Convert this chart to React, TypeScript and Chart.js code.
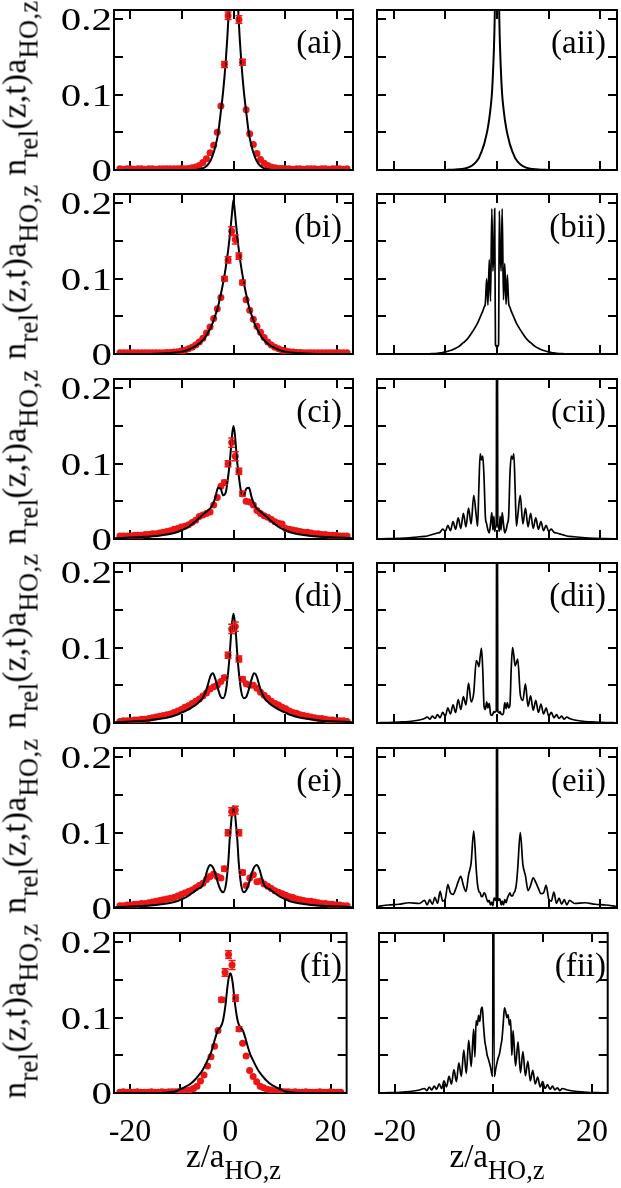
import React, { useEffect, useRef } from 'react';
import { Chart, registerables } from 'chart.js';
Chart.register(...registerables);

// ---------------- axes ----------------
const X_MIN = -23.2;
const X_MAX = 23.2;
const Y_MIN = 0;
const Y_MAX = 0.2125;
const X_TICKS = [-20, -10, 0, 10, 20];
const X_TICK_LABELS = ['-20', '', '0', '', '20'];
const Y_TICKS = [0, 0.05, 0.1, 0.15, 0.2];
const Y_TICK_LABELS = ['0', '', '0.1', '', '0.2'];
const ROWS = ['a', 'b', 'c', 'd', 'e', 'f'];

// ---------------- grids ----------------
const Z_PTS = [-22.05,-21.35,-20.65,-19.95,-19.25,-18.55,-17.85,-17.15,-16.45,-15.75,-15.05,-14.35,-13.65,-12.95,-12.25,-11.55,-10.85,-10.15,-9.45,-8.75,-8.05,-7.35,-6.65,-5.95,-5.25,-4.55,-3.85,-3.15,-2.45,-1.75,-1.05,-0.35,0.35,1.05,1.75,2.45,3.15,3.85,4.55,5.25,5.95,6.65,7.35,8.05,8.75,9.45,10.15,10.85,11.55,12.25,12.95,13.65,14.35,15.05,15.75,16.45,17.15,17.85,18.55,19.25,19.95,20.65,21.35,22.05];
const Z_L = [-23,-20,-17,-15,-13,-11,-10,-9,-8,-7,-6,-5.5,-5,-4.5,-4,-3.5,-3,-2.5,-2,-1.5,-1,-0.75,-0.5,-0.25,0,0.25,0.5,0.75,1,1.5,2,2.5,3,3.5,4,4.5,5,5.5,6,7,8,9,10,11,13,15,17,20,23];
const Z_R = [-23,-21,-19,-17,-15,-14,-13.5,-13,-12.5,-12,-11.5,-11,-10.5,-10,-9.5,-9,-8.5,-8,-7.5,-7,-6.5,-6,-5.5,-5,-4.5,-4,-3.75,-3.5,-3.25,-3,-2.75,-2.5,-2.25,-2,-1.75,-1.5,-1.25,-1,-0.8,-0.6,-0.45,-0.3,-0.15,0,0.15,0.3,0.45,0.6,0.8,1,1.25,1.5,1.75,2,2.25,2.5,2.75,3,3.25,3.5,3.75,4,4.5,5,5.5,6,6.5,7,7.5,8,8.5,9,9.5,10,10.5,11,11.5,12,12.5,13,13.5,14,15,17,19,21,23];
const ERR_Z = [-1.75, -1.05, -0.35, 0.35, 1.05, 1.75];

// ---------------- left column: red data points ----------------
const PTS_A = [0.0015,0.001,0.0015,0.0015,0.001,0.0015,0.0015,0.001,0.0015,0.0015,0.001,0.0015,0.0015,0.0015,0.0015,0.0015,0.0015,0.002,0.0015,0.002,0.003,0.004,0.006,0.01,0.015,0.023,0.033,0.05,0.085,0.14,0.205,0.3,
  0.3,0.2,0.143,0.08,0.048,0.034,0.022,0.014,0.009,0.006,0.004,0.003,0.002,0.002,0.0015,0.0015,0.001,0.0015,0.0015,0.001,0.0015,0.0015,0.0015,0.001,0.0015,0.0015,0.001,0.0015,0.0015,0.0015,0.001,0.0015];
const PTS_B = [0.0015,0.0015,0.0015,0.0015,0.0015,0.0015,0.0015,0.0015,0.0015,0.0015,0.0015,0.0015,0.0015,0.002,0.002,0.0025,0.003,0.004,0.005,0.007,0.009,0.012,0.016,0.021,0.028,0.036,0.047,0.06,0.075,0.1,0.125,0.163,
  0.152,0.13,0.095,0.072,0.058,0.046,0.037,0.029,0.022,0.016,0.012,0.009,0.007,0.005,0.004,0.003,0.0025,0.002,0.002,0.0015,0.0015,0.0015,0.0015,0.0015,0.0015,0.0015,0.0015,0.0015,0.0015,0.0015,0.0015,0.0015];
const PTS_C = [0.004,0.004,0.004,0.004,0.005,0.005,0.005,0.006,0.006,0.007,0.007,0.008,0.009,0.01,0.011,0.013,0.014,0.016,0.017,0.019,0.022,0.025,0.03,0.032,0.034,0.036,0.045,0.055,0.07,0.075,0.1,0.128,
  0.11,0.09,0.06,0.05,0.049,0.045,0.038,0.034,0.031,0.029,0.026,0.023,0.021,0.02,0.014,0.013,0.012,0.011,0.01,0.009,0.009,0.008,0.007,0.007,0.006,0.006,0.005,0.005,0.005,0.004,0.004,0.004];
const PTS_D = [0.002,0.003,0.003,0.003,0.004,0.004,0.005,0.005,0.006,0.007,0.008,0.009,0.01,0.011,0.012,0.014,0.016,0.018,0.021,0.023,0.026,0.029,0.032,0.036,0.04,0.045,0.048,0.05,0.055,0.06,0.09,0.125,
  0.128,0.085,0.058,0.052,0.05,0.05,0.046,0.041,0.037,0.033,0.029,0.026,0.024,0.021,0.019,0.016,0.014,0.013,0.011,0.01,0.009,0.008,0.007,0.006,0.006,0.005,0.004,0.004,0.003,0.003,0.003,0.002];
const PTS_E = [0.003,0.003,0.004,0.004,0.005,0.005,0.006,0.006,0.007,0.008,0.009,0.01,0.011,0.012,0.013,0.014,0.016,0.018,0.02,0.022,0.024,0.027,0.03,0.033,0.038,0.042,0.045,0.042,0.04,0.052,0.1,0.128,
  0.13,0.1,0.047,0.03,0.04,0.044,0.035,0.036,0.032,0.029,0.026,0.023,0.021,0.019,0.017,0.015,0.014,0.012,0.011,0.01,0.009,0.009,0.008,0.007,0.006,0.006,0.005,0.005,0.004,0.004,0.003,0.003];
const PTS_F = [0.001,0.0015,0.001,0.001,0.001,0.0015,0.001,0.001,0.001,0.0015,0.001,0.001,0.0015,0.001,0.0015,0.0015,0.0015,0.002,0.002,0.003,0.004,0.006,0.009,0.016,0.024,0.036,0.048,0.062,0.083,0.124,0.16,0.184,
  0.17,0.126,0.085,0.066,0.049,0.03,0.022,0.015,0.009,0.007,0.005,0.004,0.003,0.002,0.002,0.0015,0.0015,0.001,0.0015,0.001,0.001,0.0015,0.001,0.001,0.001,0.0015,0.001,0.001,0.0015,0.001,0.001,0.001];

// error bars of the central points (at ERR_Z)
const ERR_A = [0.004, 0.005, 0, 0, 0.005, 0.004];
const ERR_B = [0.003, 0.004, 0.006, 0.006, 0.004, 0.003];
const ERR_C = [0.003, 0.004, 0.006, 0.006, 0.004, 0.003];
const ERR_D = [0.003, 0.004, 0.006, 0.006, 0.004, 0.003];
const ERR_E = [0.003, 0.004, 0.005, 0.005, 0.004, 0.003];
const ERR_F = [0.003, 0.005, 0.005, 0.006, 0.004, 0.003];

// ---------------- left column: black curves (on Z_L) ----------------
const LINE_A = [0,0,0,0,0,0,0,0,0,0.0005,0.002,0.004,0.007,0.012,0.02,0.032,0.048,0.075,0.105,0.145,0.2,0.24,0.28,0.31,
  0.32,
  0.31,0.28,0.24,0.2,0.145,0.105,0.075,0.048,0.032,0.02,0.012,0.007,0.004,0.002,0.0005,0,0,0,0,0,0,0,0,0];
const LINE_B = [0,0,0,0.0003,0.001,0.002,0.003,0.005,0.008,0.012,0.018,0.022,0.028,0.034,0.042,0.052,0.063,0.078,0.095,0.115,0.14,0.155,0.172,0.19,
  0.205,
  0.19,0.172,0.155,0.14,0.115,0.095,0.078,0.063,0.052,0.042,0.034,0.028,0.022,0.018,0.012,0.008,0.005,0.003,0.002,0.001,0.0003,0,0,0];
const LINE_C = [0.001,0.002,0.003,0.004,0.006,0.009,0.012,0.015,0.02,0.026,0.032,0.035,0.038,0.041,0.046,0.056,0.068,0.067,0.058,0.062,0.085,0.1,0.12,0.14,
  0.15,
  0.14,0.12,0.1,0.085,0.062,0.058,0.067,0.068,0.056,0.046,0.041,0.038,0.035,0.032,0.026,0.02,0.015,0.012,0.009,0.006,0.004,0.003,0.002,0.001];
const LINE_D = [0.001,0.002,0.003,0.005,0.007,0.011,0.014,0.017,0.021,0.026,0.033,0.04,0.05,0.062,0.066,0.058,0.045,0.035,0.033,0.042,0.07,0.09,0.115,0.135,
  0.145,
  0.135,0.115,0.09,0.07,0.042,0.033,0.035,0.045,0.058,0.066,0.062,0.05,0.04,0.033,0.026,0.021,0.017,0.014,0.011,0.007,0.005,0.003,0.002,0.001];
const LINE_E = [0.001,0.002,0.003,0.004,0.006,0.009,0.012,0.015,0.02,0.025,0.03,0.04,0.052,0.057,0.054,0.045,0.033,0.024,0.021,0.03,0.062,0.09,0.11,0.128,
  0.135,
  0.128,0.11,0.09,0.062,0.03,0.021,0.024,0.033,0.045,0.054,0.057,0.052,0.04,0.03,0.025,0.02,0.015,0.012,0.009,0.006,0.004,0.003,0.002,0.001];
const LINE_F = [0,0,0,0,0.0005,0.002,0.005,0.008,0.012,0.018,0.026,0.031,0.037,0.044,0.051,0.061,0.073,0.083,0.087,0.095,0.115,0.13,0.145,0.155,
  0.159,
  0.155,0.145,0.13,0.115,0.095,0.087,0.083,0.073,0.061,0.051,0.044,0.037,0.031,0.026,0.018,0.012,0.008,0.005,0.002,0.0005,0,0,0,0];

// ---------------- right column: black curves (on Z_R) ----------------
const LINE_AII = [0,0,0,0,0,0,0,0,0,0,0,0,0.0001,0.0001,0.0002,0.0003,0.0004,0.0006,0.0009,0.0013,0.0018,0.0025,0.0035,0.005,0.0075,
  0.011,0.0135,0.016,0.02,0.024,0.029,0.034,0.041,0.048,0.057,0.068,0.082,0.1,0.125,0.16,0.2,0.27,0.38,
  0.5,
  0.38,0.27,0.2,0.16,0.125,0.1,0.082,0.068,0.057,0.048,0.041,0.034,0.029,0.024,0.02,0.016,0.0135,0.011,
  0.0075,0.005,0.0035,0.0025,0.0018,0.0013,0.0009,0.0006,0.0004,0.0003,0.0002,0.0001,0.0001,0,0,0,0,0,0,0,0,0,0,0,0];
const LINE_BII = [0,0,0,0,0,0.0001,0.0002,0.0003,0.0005,0.0007,0.001,0.0014,0.002,0.0028,0.0036,0.0046,0.006,0.0075,0.0095,0.012,0.015,0.018,0.022,0.027,0.032,
  0.038,0.041,0.045,0.049,0.053,0.057,0.062,0.068,0.1,0.065,0.125,0.07,0.193,0.11,0.14,0.193,0.012,0.01,
  0.011,
  0.01,0.012,0.19,0.14,0.11,0.193,0.072,0.12,0.066,0.105,0.068,0.062,0.057,0.053,0.049,0.045,0.041,0.038,
  0.032,0.027,0.022,0.018,0.015,0.012,0.0095,0.0075,0.006,0.0046,0.0036,0.0028,0.002,0.0014,0.001,0.0007,0.0005,0.0003,0.0002,0.0001,0,0,0,0,0];
const LINE_CII = [0.0002,0.0004,0.0008,0.0015,0.003,0.0035,0.004,0.005,0.006,0.007,0.008,0.009,0.013,0.01,0.018,0.011,0.023,0.013,0.028,0.014,0.034,0.016,0.041,0.02,0.058,
  0.03,0.017,0.07,0.113,0.105,0.11,0.08,0.03,0.02,0.012,0.008,0.02,0.035,0.012,0.03,0.01,0.015,0.018,
  0.6,
  0.018,0.015,0.01,0.03,0.012,0.035,0.02,0.008,0.012,0.02,0.03,0.085,0.11,0.106,0.113,0.068,0.017,0.03,
  0.058,0.02,0.041,0.016,0.034,0.014,0.028,0.013,0.023,0.011,0.018,0.01,0.013,0.009,0.008,0.007,0.006,0.005,0.004,0.0035,0.003,0.0015,0.0008,0.0004,0.0002];
const LINE_DII = [0.0003,0.0006,0.0012,0.002,0.004,0.006,0.008,0.005,0.009,0.006,0.011,0.007,0.014,0.009,0.02,0.012,0.024,0.014,0.031,0.018,0.035,0.024,0.053,0.028,0.04,
  0.083,0.08,0.075,0.088,0.099,0.07,0.022,0.018,0.028,0.02,0.026,0.012,0.01,0.012,0.015,0.014,0.015,0.016,
  0.6,
  0.016,0.014,0.013,0.015,0.012,0.011,0.013,0.027,0.019,0.027,0.02,0.024,0.072,0.1,0.09,0.076,0.08,0.085,
  0.038,0.03,0.052,0.022,0.036,0.017,0.03,0.014,0.025,0.012,0.02,0.009,0.014,0.007,0.011,0.006,0.009,0.005,0.008,0.006,0.004,0.002,0.0012,0.0006,0.0003];
const LINE_EII = [0.002,0.004,0.005,0.007,0.006,0.01,0.004,0.011,0.005,0.014,0.006,0.022,0.009,0.012,0.031,0.02,0.018,0.025,0.035,0.042,0.03,0.022,0.044,0.06,0.102,
  0.05,0.03,0.022,0.02,0.015,0.016,0.02,0.018,0.012,0.008,0.01,0.004,0.008,0.003,0.012,0.013,0.01,0.012,
  0.6,
  0.012,0.01,0.012,0.011,0.004,0.009,0.004,0.011,0.007,0.013,0.017,0.02,0.016,0.016,0.02,0.023,0.032,0.052,
  0.1,0.058,0.043,0.023,0.03,0.04,0.034,0.026,0.019,0.02,0.03,0.012,0.009,0.021,0.006,0.013,0.005,0.011,0.004,0.01,0.006,0.007,0.005,0.004,0.002];
const LINE_FII = [0.0002,0.0005,0.001,0.002,0.004,0.006,0.003,0.008,0.004,0.009,0.005,0.012,0.006,0.016,0.008,0.022,0.012,0.031,0.015,0.04,0.022,0.057,0.026,0.07,0.035,
  0.085,0.048,0.096,0.09,0.103,0.095,0.11,0.114,0.09,0.07,0.06,0.05,0.045,0.04,0.035,0.03,0.025,0.022,
  0.6,
  0.022,0.024,0.031,0.036,0.042,0.047,0.052,0.062,0.072,0.092,0.113,0.108,0.1,0.104,0.09,0.097,0.05,0.083,
  0.036,0.068,0.027,0.055,0.023,0.042,0.016,0.03,0.012,0.021,0.008,0.015,0.006,0.011,0.005,0.009,0.004,0.007,0.003,0.006,0.004,0.002,0.001,0.0005,0.0002];

const LEFT_LINES = [LINE_A, LINE_B, LINE_C, LINE_D, LINE_E, LINE_F];
const LEFT_PTS = [PTS_A, PTS_B, PTS_C, PTS_D, PTS_E, PTS_F];
const LEFT_ERR = [ERR_A, ERR_B, ERR_C, ERR_D, ERR_E, ERR_F];
const RIGHT_LINES = [LINE_AII, LINE_BII, LINE_CII, LINE_DII, LINE_EII, LINE_FII];

// ---------------- layout / style ----------------
const W = 621;
const H = 1188;
const ROW_TOP = [10, 194, 379, 563, 748, 933];
const PANEL_H = 160;
const COL_X0 = [114, 377];
const COL_X1 = [353, 617];
const PAD_TOP = 24;
const FONT = "'Liberation Serif', 'Times New Roman', serif";
const RED = 'rgb(236,22,22)';

const framePlugin = {
  id: 'frameTicks',
  beforeDatasetsDraw(chart: any) {
    const { ctx, chartArea: a, scales } = chart;
    ctx.save();
    ctx.strokeStyle = '#000';
    ctx.lineWidth = 2;
    ctx.strokeRect(a.left, a.top, a.right - a.left, a.bottom - a.top);
    const L = 9;
    ctx.beginPath();
    for (const v of X_TICKS) {
      const x = Math.round(scales.x.getPixelForValue(v));
      ctx.moveTo(x, a.bottom); ctx.lineTo(x, a.bottom - L);
      ctx.moveTo(x, a.top); ctx.lineTo(x, a.top + L);
    }
    for (const v of Y_TICKS) {
      const y = Math.round(scales.y.getPixelForValue(v));
      ctx.moveTo(a.left, y); ctx.lineTo(a.left + L, y);
      ctx.moveTo(a.right, y); ctx.lineTo(a.right - L, y);
    }
    ctx.stroke();
    ctx.restore();
  },
};

// y tick labels of the left column, drawn at the scale's tick positions
const yLabelPlugin = {
  id: 'yLabels',
  afterDraw(chart: any) {
    const { ctx, chartArea: a, scales } = chart;
    ctx.save();
    ctx.fillStyle = '#000';
    ctx.font = `32px ${FONT}`;
    ctx.textAlign = 'right';
    ctx.textBaseline = 'alphabetic';
    Y_TICKS.forEach((v, i) => {
      const label = Y_TICK_LABELS[i];
      if (!label) return;
      const y = scales.y.getPixelForValue(v);
      ctx.save();
      ctx.translate(a.left - 2, y + 11);
      ctx.scale(1.28, 1);
      ctx.fillText(label, 0, 0);
      ctx.restore();
    });
    ctx.restore();
  },
};

function makeErrPlugin(pts: number[], err: number[]) {
  return {
    id: 'errBars',
    afterDatasetsDraw(chart: any) {
      const { ctx, chartArea: a, scales } = chart;
      ctx.save();
      ctx.beginPath();
      ctx.rect(a.left, a.top, a.right - a.left, a.bottom - a.top);
      ctx.clip();
      ctx.strokeStyle = RED;
      ctx.lineWidth = 1.5;
      ctx.beginPath();
      ERR_Z.forEach((z, k) => {
        const e = err[k];
        if (!e) return;
        const i = Z_PTS.indexOf(z);
        const y = pts[i];
        const px = scales.x.getPixelForValue(z);
        const y1 = scales.y.getPixelForValue(y - e);
        const y2 = scales.y.getPixelForValue(y + e);
        ctx.moveTo(px, y1); ctx.lineTo(px, y2);
        ctx.moveTo(px - 3.5, y1); ctx.lineTo(px + 3.5, y1);
        ctx.moveTo(px - 3.5, y2); ctx.lineTo(px + 3.5, y2);
      });
      ctx.stroke();
      ctx.restore();
    },
  };
}

function Panel({ row, col }: { row: number; col: number }) {
  const ref = useRef<HTMLCanvasElement | null>(null);
  const bottomRow = row === ROWS.length - 1;
  const yW = col === 0 ? COL_X0[0] : 16;
  const padR = col === 0 ? 6 : 3;
  const xH = bottomRow ? 56 : col === 0 ? 20 : 6;
  const width = yW + (COL_X1[col] - COL_X0[col]) + padR;
  const height = PAD_TOP + PANEL_H + xH;
  const left = COL_X0[col] - yW;
  const top = ROW_TOP[row] - PAD_TOP;

  useEffect(() => {
    if (!ref.current) return;
    const datasets: any[] = [];
    const plugins: any[] = [framePlugin];
    if (col === 0) {
      datasets.push({
        data: Z_L.map((x, i) => ({ x, y: LEFT_LINES[row][i] })),
        borderColor: '#000', borderWidth: 2, pointRadius: 0, pointHoverRadius: 0,
        cubicInterpolationMode: 'monotone', fill: false,
      });
      datasets.push({
        data: Z_PTS.map((x, i) => ({ x, y: LEFT_PTS[row][i] })),
        showLine: false, pointRadius: 3.5, pointHoverRadius: 3.5,
        pointBackgroundColor: RED, pointBorderWidth: 0, borderColor: RED, backgroundColor: RED,
      });
      plugins.push(makeErrPlugin(LEFT_PTS[row], LEFT_ERR[row]));
      plugins.push(yLabelPlugin);
    } else {
      datasets.push({
        data: Z_R.map((x, i) => ({ x, y: RIGHT_LINES[row][i] })),
        borderColor: '#000', borderWidth: row === 0 ? 2 : 1.7, pointRadius: 0, pointHoverRadius: 0,
        cubicInterpolationMode: 'monotone', fill: false,
      });
    }
    const tickFont = { family: FONT, size: 32 };
    const chart = new Chart(ref.current, {
      type: 'line',
      data: { datasets },
      plugins,
      options: {
        animation: false,
        responsive: false,
        maintainAspectRatio: false,
        devicePixelRatio: 1,
        events: [],
        layout: { padding: { top: PAD_TOP, right: padR, left: 0, bottom: 0 } },
        plugins: { legend: { display: false }, tooltip: { enabled: false }, title: { display: false } },
        scales: {
          x: {
            type: 'linear', min: X_MIN, max: X_MAX,
            grid: { display: false }, border: { display: false },
            afterBuildTicks: (s: any) => { s.ticks = X_TICKS.map((v) => ({ value: v })); },
            afterFit: (s: any) => { s.height = xH; },
            ticks: {
              display: bottomRow, autoSkip: false, maxRotation: 0, minRotation: 0, padding: 12,
              color: '#000', font: tickFont,
              callback: (v: any) => X_TICK_LABELS[X_TICKS.indexOf(Number(v))] ?? '',
            },
          },
          y: {
            type: 'linear', min: Y_MIN, max: Y_MAX,
            grid: { display: false }, border: { display: false },
            afterBuildTicks: (s: any) => { s.ticks = Y_TICKS.map((v) => ({ value: v })); },
            afterFit: (s: any) => { s.width = yW; },
            ticks: { display: false },
          },
        },
      } as any,
    });
    return () => chart.destroy();
  }, []);

  return (
    <canvas
      ref={ref}
      width={width}
      height={height}
      style={{ position: 'absolute', left, top, width, height }}
    />
  );
}

const Sub = ({ children }: { children: any }) => (
  <span style={{ fontSize: '0.8em', position: 'relative', top: '0.45em' }}>{children}</span>
);

export default function App() {
  const text: React.CSSProperties = { fontFamily: FONT, color: '#000', whiteSpace: 'nowrap' };
  return (
    <div style={{ position: 'absolute', left: 0, top: 0, width: W, height: H, overflow: 'hidden', background: '#fff' }}>
      {ROWS.map((r, row) => (
        <React.Fragment key={r}>
          <Panel row={row} col={0} />
          <Panel row={row} col={1} />
          <div style={{ position: 'absolute', left: 16, top: ROW_TOP[row] + PANEL_H / 2 - 2, width: 0, height: 0 }}>
            <div style={{ ...text, position: 'absolute', left: 0, top: 0, fontSize: 33, lineHeight: '33px', letterSpacing: 0.4, transform: 'translate(-50%, -50%) rotate(-90deg)' }}>
              n<Sub>rel</Sub>(z,t)a<Sub>HO,z</Sub>
            </div>
          </div>
          <div style={{ ...text, position: 'absolute', right: W - (COL_X1[0] - 11), top: ROW_TOP[row] + 16, fontSize: 33, lineHeight: '32px' }}>
            ({r}i)
          </div>
          <div style={{ ...text, position: 'absolute', right: W - (COL_X1[1] - 11), top: ROW_TOP[row] + 16, fontSize: 33, lineHeight: '32px' }}>
            ({r}ii)
          </div>
        </React.Fragment>
      ))}
      {[0, 1].map((c) => (
        <div key={c} style={{ ...text, position: 'absolute', left: (COL_X0[c] + COL_X1[c]) / 2, top: 1140, fontSize: 33, lineHeight: '33px', transform: 'translateX(-50%)' }}>
          z/a<Sub>HO,z</Sub>
        </div>
      ))}
    </div>
  );
}
